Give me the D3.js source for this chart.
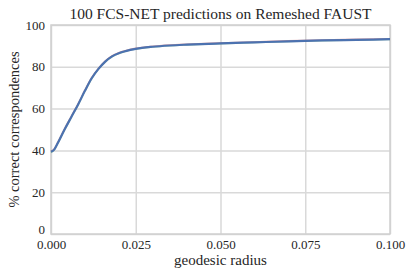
<!DOCTYPE html>
<html lang="en">
  <head>
    <meta charset="UTF-8" />
    <title></title>
    <script src="https://d3js.org/d3.v7.min.js"></script>
    <style>
      body { margin: 0; background: #fff; }
      text { font-family: 'Liberation Serif', serif; fill: #262626; }
    </style>
  </head>
  <body>
    <div id="my_dataviz"></div>
    <script>
      // data (geodesic radius vs % correct)
      const radius = [0, 0.001, 0.002, 0.004, 0.006, 0.008, 0.010, 0.012, 0.014, 0.016, 0.018,
        0.020, 0.022, 0.025, 0.030, 0.035, 0.040, 0.050, 0.060, 0.070, 0.080, 0.090, 0.100]
      const predA = [39.0, 40.3, 43.3, 49.8, 55.8, 61.8, 68.3, 74.3, 78.9, 82.4, 84.8,
        86.4, 87.4, 88.5, 89.5, 90.1, 90.5, 91.1, 91.6, 92.1, 92.5, 92.8, 93.1]
      const predB = [39.6, 40.8, 43.8, 50.3, 56.3, 62.3, 68.8, 74.8, 79.2, 82.7, 85.2,
        86.7, 87.7, 88.8, 89.8, 90.4, 90.8, 91.4, 91.9, 92.4, 92.8, 93.1, 93.4]
      const predC = [39.3, 40.5, 43.5, 50.0, 56.0, 62.0, 68.5, 74.5, 79.0, 82.5, 85.0,
        86.5, 87.5, 88.6, 89.6, 90.2, 90.6, 91.2, 91.7, 92.2, 92.6, 92.9, 93.2]
      const series = [
        { name: 'green', values: predA, color: '#55a868' },
        { name: 'red', values: predB, color: '#c44e52' },
        { name: 'blue', values: predC, color: '#4c72b0' }
      ]
      const xTicks = [0, 0.025, 0.05, 0.075, 0.1]
      const yTicks = [0, 20, 40, 60, 80, 100]

      const margin = { top: 25, right: 25, bottom: 43, left: 51 },
        width = 415 - margin.left - margin.right,
        height = 277 - margin.top - margin.bottom

      const svg = d3
        .select('#my_dataviz')
        .append('svg')
        .attr('width', 415)
        .attr('height', 277)
      const g = svg.append('g').attr('transform', `translate(${margin.left}, ${margin.top})`)

      const x = d3.scaleLinear().domain([0, 0.1]).range([0, width])
      const y = d3.scaleLinear().domain([0, 100]).range([height, 0])

      // grid
      g.append('g')
        .attr('transform', `translate(0, ${height})`)
        .call(d3.axisBottom(x).tickValues(xTicks).tickSize(-height).tickFormat(d3.format('.3f')).tickPadding(6))
        .call(a => a.select('.domain').remove())
        .call(a => a.selectAll('.tick line').attr('stroke', '#d9d9d9').attr('stroke-width', 1.5))
        .call(a => a.selectAll('.tick text').attr('font-size', 13).attr('font-family', 'Liberation Serif').attr('fill', '#262626'))

      g.append('g')
        .call(d3.axisLeft(y).tickValues(yTicks).tickSize(-width).tickPadding(6))
        .call(a => a.select('.domain').remove())
        .call(a => a.selectAll('.tick line').attr('stroke', '#d9d9d9').attr('stroke-width', 1.5))
        .call(a => a.selectAll('.tick text').attr('font-size', 13).attr('font-family', 'Liberation Serif').attr('fill', '#262626'))
        .call(a => a.selectAll('.tick text').filter(d => d === 0).attr('dy', '-0.05em'))

      // frame
      g.append('rect')
        .attr('width', width)
        .attr('height', height)
        .attr('fill', 'none')
        .attr('stroke', '#d0d0d0')
        .attr('stroke-width', 1.5)

      const line = d3
        .line()
        .curve(d3.curveMonotoneX)
        .x((d, i) => x(radius[i]))
        .y(d => y(d))

      g.selectAll('.pred')
        .data(series)
        .join('path')
        .attr('class', 'pred')
        .attr('fill', 'none')
        .attr('stroke', d => d.color)
        .attr('stroke-width', d => (d.name === 'blue' ? 2.2 : 1.6))
        .attr('stroke-opacity', d => (d.name === 'blue' ? 1 : 0.5))
        .attr('d', d => line(d.values))

      // title and labels
      svg.append('text')
        .attr('x', margin.left + width / 2)
        .attr('y', 19)
        .attr('text-anchor', 'middle')
        .attr('font-size', 15.5)
        .text('100 FCS-NET predictions on Remeshed FAUST')

      svg.append('text')
        .attr('x', margin.left + width / 2)
        .attr('y', 265)
        .attr('text-anchor', 'middle')
        .attr('font-size', 15)
        .text('geodesic radius')

      svg.append('text')
        .attr('transform', `translate(19, ${margin.top + height / 2}) rotate(-90)`)
        .attr('text-anchor', 'middle')
        .attr('font-size', 14.5)
        .text('% correct correspondences')
    </script>
  </body>
</html>
